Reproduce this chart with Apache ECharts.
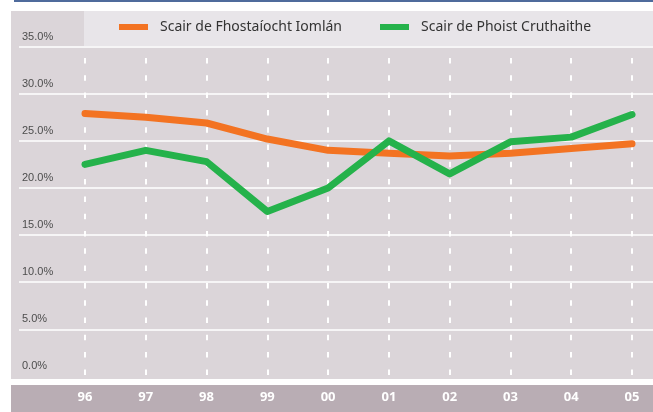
<!DOCTYPE html>
<html>
<head>
<meta charset="utf-8">
<script src="https://cdn.jsdelivr.net/npm/echarts@6/dist/echarts.min.js"></script>
<style>
  html, body { margin: 0; padding: 0; background: #fff; }
  #chart { width: 653px; height: 412px; }
</style>
</head>
<body>
<div id="chart"></div>
<script>
// years along the bottom
var years = ['96', '97', '98', '99', '00', '01', '02', '03', '04', '05'];
// Scair de Fhostaíocht Iomlán (%)
var fhostaiocht = [27.9, 27.5, 26.9, 25.2, 24.0, 23.7, 23.4, 23.7, 24.2, 24.7];
// Scair de Phoist Cruthaithe (%)
var phoist = [22.5, 24.0, 22.8, 17.5, 20.0, 25.0, 21.5, 24.9, 25.4, 27.8];
var seriesNames = ['Scair de Fhostaíocht Iomlán', 'Scair de Phoist Cruthaithe'];
var yMin = 0, yMax = 35, yStep = 5;

var chart = echarts.init(document.getElementById('chart'));

var option = {
  backgroundColor: '#ffffff',
  animation: false,
  graphic: {
    elements: [
      // blue rule on top
      { type: 'rect', z: 0, shape: { x: 14, y: 0, width: 639, height: 2 }, style: { fill: '#4f6b9c' } },
      // grey panel
      { type: 'rect', z: 0, shape: { x: 11, y: 11, width: 642, height: 368 }, style: { fill: '#dbd5d9' } },
      // legend strip
      { type: 'rect', z: 0, shape: { x: 84, y: 11, width: 569, height: 35 }, style: { fill: '#e8e5e9' } },
      // x label band
      { type: 'rect', z: 0, shape: { x: 11, y: 385, width: 642, height: 27 }, style: { fill: '#b9adb4' } }
    ]
  },
  legend: {
    data: seriesNames,
    left: 114,
    top: 15,
    icon: 'rect',
    itemWidth: 29,
    itemHeight: 6,
    itemGap: 38,
    textStyle: {
      fontFamily: 'Noto Sans',
      fontSize: 14,
      color: '#333333',
      padding: [0, 0, 0, 7]
    }
  },
  grid: [
    // background grid for horizontal lines + y labels
    { left: 19, right: 0, top: 46.7, bottom: 35.6 },
    // data grid
    { left: 85, right: 21, top: 46.7, bottom: 35.6 }
  ],
  xAxis: [
    { gridIndex: 0, type: 'value', show: false, min: 0, max: 1 },
    {
      gridIndex: 1,
      type: 'category',
      boundaryGap: false,
      data: years,
      z: 3,
      axisLine: { show: false },
      axisTick: { show: false },
      axisLabel: {
        color: '#ffffff',
        fontWeight: 'bold',
        fontSize: 13,
        fontFamily: 'Noto Sans',
        margin: 14
      },
      splitLine: {
        show: true,
        lineStyle: { color: '#ffffff', width: 2, type: [5.5, 11.8], dashOffset: 6 }
      }
    }
  ],
  yAxis: [
    {
      gridIndex: 0,
      type: 'value',
      min: yMin,
      max: yMax,
      interval: yStep,
      z: 3,
      axisLine: { show: false },
      axisTick: { show: false },
      axisLabel: {
        inside: true,
        margin: 3,
        color: '#4d4d4d',
        fontSize: 11,
        fontFamily: 'Liberation Sans',
        verticalAlign: 'bottom',
        lineHeight: 12,
        padding: [0, 0, 4, 0],
        formatter: function (v) { return v.toFixed(1) + '%'; }
      },
      splitLine: { show: true, showMinLine: false, lineStyle: { color: '#ffffff', width: 1.5 } }
    },
    { gridIndex: 1, type: 'value', min: yMin, max: yMax, interval: yStep, show: false, splitLine: { show: false } }
  ],
  series: [
    {
      name: seriesNames[0],
      type: 'line',
      xAxisIndex: 1,
      yAxisIndex: 1,
      data: fhostaiocht,
      z: 10,
      showSymbol: false,
      color: '#f37322',
      lineStyle: { width: 7, cap: 'round', join: 'round' }
    },
    {
      name: seriesNames[1],
      type: 'line',
      xAxisIndex: 1,
      yAxisIndex: 1,
      data: phoist,
      z: 11,
      showSymbol: false,
      color: '#25b24b',
      lineStyle: { width: 7, cap: 'round', join: 'round' }
    }
  ]
};

chart.setOption(option);
</script>
</body>
</html>
